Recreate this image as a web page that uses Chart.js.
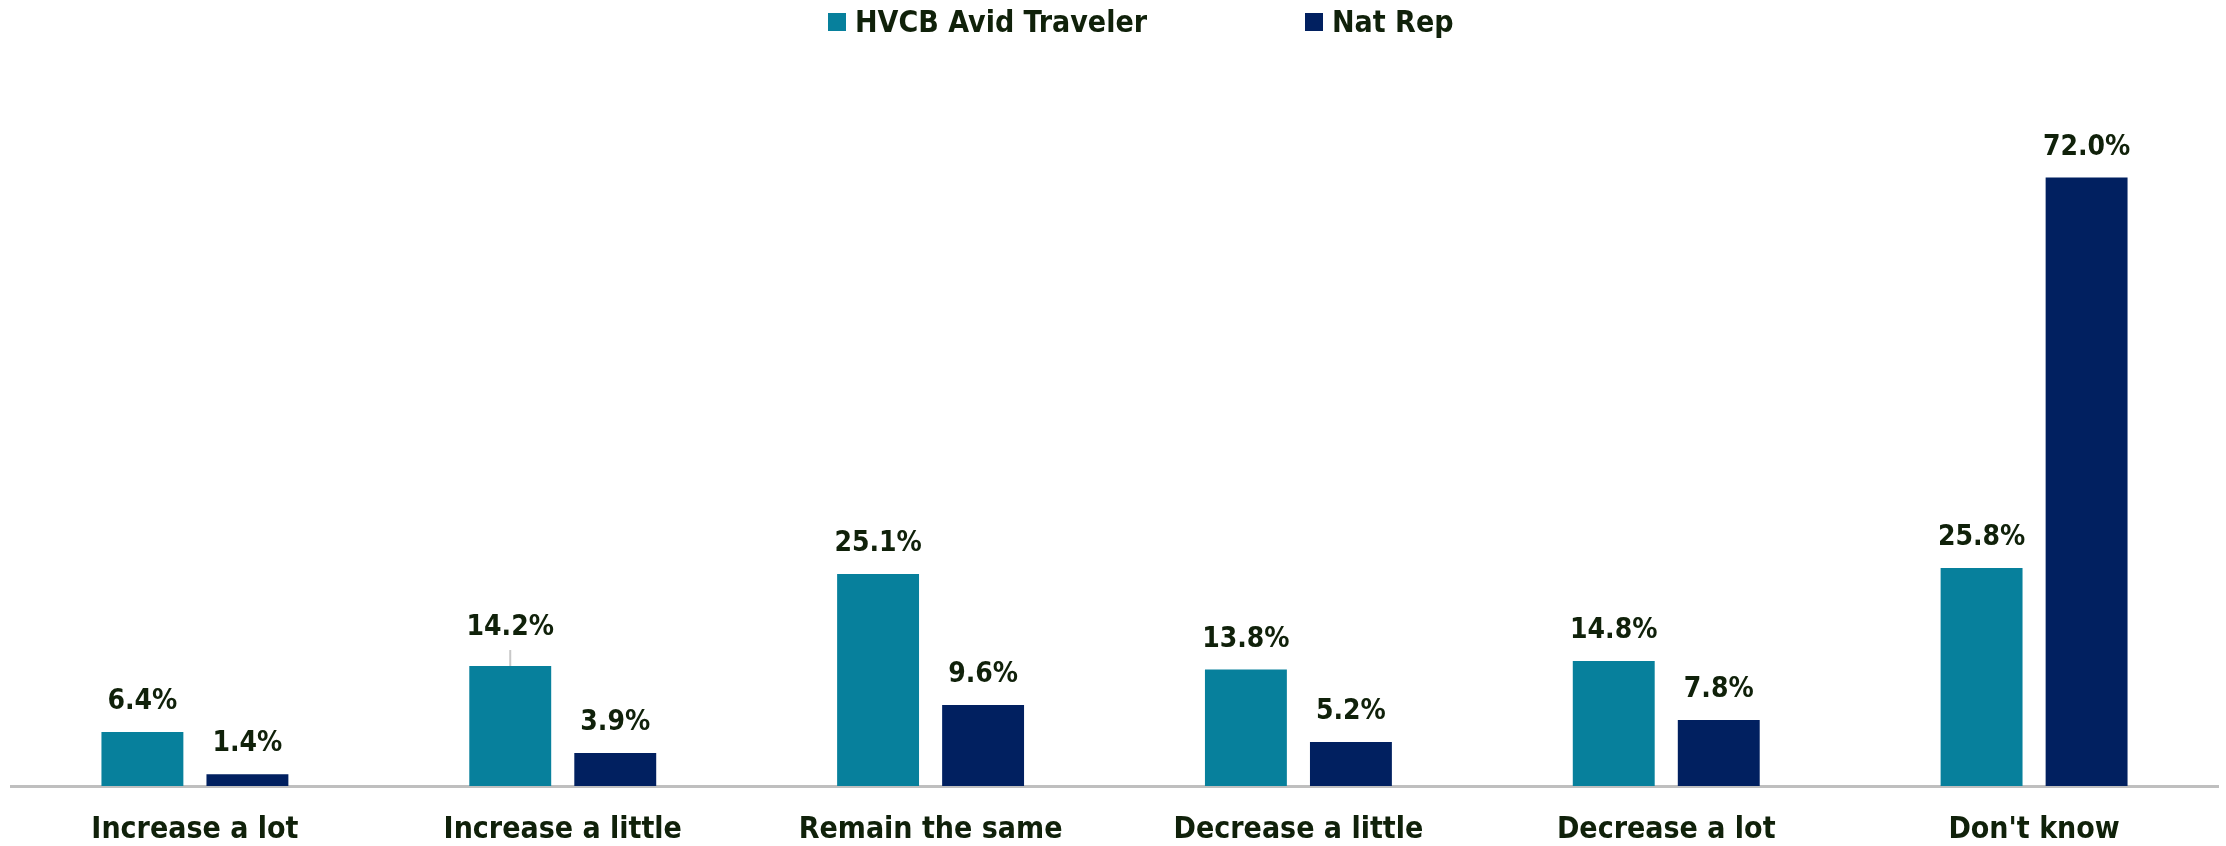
<!DOCTYPE html>
<html>
<head>
<meta charset="utf-8">
<script src="https://cdn.jsdelivr.net/npm/chart.js@4"></script>
<style>
  html, body { margin: 0; padding: 0; background: #fff; }
  #wrap { width: 2226px; height: 846px; position: relative; }
</style>
</head>
<body>
<div id="wrap"><canvas id="chart"></canvas></div>
<script>
// --- datos ---
const categories = ['Increase a lot', 'Increase a little', 'Remain the same', 'Decrease a little', 'Decrease a lot', "Don't know"];
const avidTraveler = [6.4, 14.2, 25.1, 13.8, 14.8, 25.8];
const natRep = [1.4, 3.9, 9.6, 5.2, 7.8, 72.0];
const seriesNames = ['HVCB Avid Traveler', 'Nat Rep'];
const seriesColors = ['#07809C', '#012060'];

const FONT = '"DejaVu Sans Condensed", "DejaVu Sans", sans-serif';
const TEXT_COLOR = '#10210A';

// etiquetas de valor encima de cada barra + leyenda dibujada a mano
const valueLabels = {
    id: 'valueLabels',
    afterDatasetsDraw(chart) {
        const ctx = chart.ctx;
        ctx.save();
        ctx.font = 'bold 28px ' + FONT;
        ctx.fillStyle = TEXT_COLOR;
        ctx.textAlign = 'center';
        ctx.textBaseline = 'middle';
        chart.data.datasets.forEach((ds, di) => {
            chart.getDatasetMeta(di).data.forEach((bar, i) => {
                let lift = 30;
                // la etiqueta de 14.2% lleva una pequeña línea guía
                if (di === 0 && i === 1) {
                    lift = 38;
                    ctx.strokeStyle = '#C8C8C8';
                    ctx.lineWidth = 2;
                    ctx.beginPath();
                    ctx.moveTo(bar.x, bar.y - 16);
                    ctx.lineTo(bar.x, bar.y);
                    ctx.stroke();
                }
                ctx.fillText(ds.data[i].toFixed(1) + '%', bar.x, bar.y - lift);
            });
        });
        ctx.restore();
    },
    afterDraw(chart) {
        const ctx = chart.ctx;
        ctx.save();
        ctx.font = 'bold 30px ' + FONT;
        ctx.textBaseline = 'alphabetic';
        ctx.textAlign = 'left';
        const starts = [828, 1305];
        seriesNames.forEach((name, i) => {
            ctx.fillStyle = seriesColors[i];
            ctx.fillRect(starts[i], 13, 18, 18);
            ctx.fillStyle = TEXT_COLOR;
            ctx.fillText(name, starts[i] + 27, 32);
        });
        ctx.restore();
    }
};

const ctx = document.getElementById('chart').getContext('2d');
new Chart(ctx, {
    type: 'bar',
    data: {
        labels: categories,
        datasets: [
            {
                label: seriesNames[0],
                data: avidTraveler,
                backgroundColor: seriesColors[0],
                categoryPercentage: 0.571,
                barPercentage: 0.78
            },
            {
                label: seriesNames[1],
                data: natRep,
                backgroundColor: seriesColors[1],
                categoryPercentage: 0.571,
                barPercentage: 0.78
            }
        ]
    },
    options: {
        responsive: true,
        maintainAspectRatio: false,
        animation: false,
        layout: { padding: { top: 110, left: 11, right: 8, bottom: 0 } },
        plugins: {
            legend: { display: false },
            tooltip: { enabled: false }
        },
        scales: {
            x: {
                grid: { display: false, drawTicks: false },
                border: { display: true, color: '#BFBFBF', width: 3 },
                ticks: {
                    color: TEXT_COLOR,
                    padding: 26,
                    maxRotation: 0,
                    font: { family: FONT, size: 30, weight: 'bold' }
                },
                afterFit(scale) { scale.height = 60; }
            },
            y: {
                display: false,
                min: 0,
                max: 80
            }
        }
    },
    plugins: [valueLabels]
});
</script>
</body>
</html>
